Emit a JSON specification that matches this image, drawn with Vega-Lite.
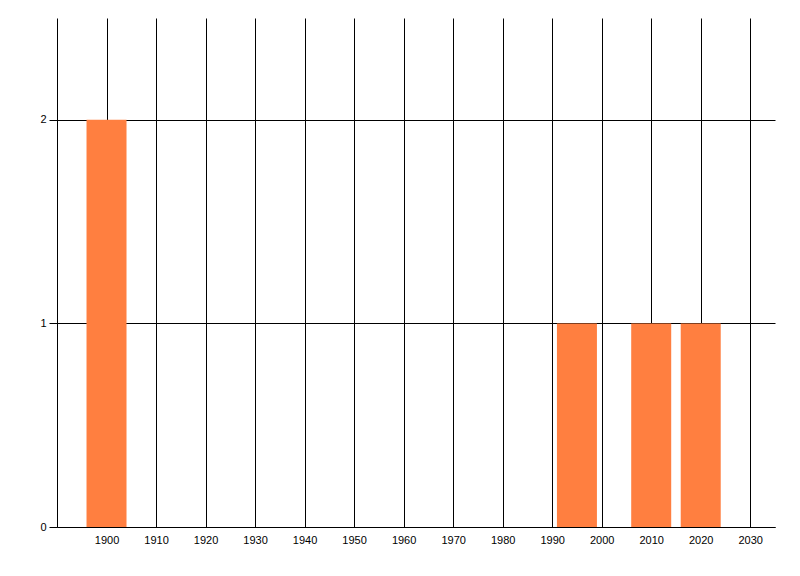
{
  "$schema": "https://vega.github.io/schema/vega-lite/v6.json",
  "width": 718,
  "height": 509,
  "autosize": {"type": "none"},
  "padding": {"left": 57, "top": 18, "right": 25, "bottom": 49},
  "background": "white",
  "config": {
    "view": {"stroke": null},
    "axis": {
      "labelFont": "Liberation Sans",
      "labelFontSize": 11,
      "labelColor": "black",
      "domainColor": "black",
      "tickColor": "black",
      "gridColor": "black",
      "gridOpacity": 1,
      "domainWidth": 1,
      "gridWidth": 1,
      "tickWidth": 1
    }
  },
  "data": {
    "values": [
      {"year": 1900, "count": 2},
      {"year": 1995, "count": 1},
      {"year": 2010, "count": 1},
      {"year": 2020, "count": 1}
    ]
  },
  "mark": {"type": "bar", "color": "#FF7F40", "width": 40},
  "encoding": {
    "x": {
      "field": "year",
      "type": "quantitative",
      "scale": {"domain": [1890, 2035], "nice": false, "zero": false, "padding": 0},
      "axis": {
        "title": null,
        "values": [1900, 1910, 1920, 1930, 1940, 1950, 1960, 1970, 1980, 1990, 2000, 2010, 2020, 2030],
        "format": "d",
        "grid": true,
        "ticks": false,
        "labelPadding": 7,
        "labelFlush": false
      }
    },
    "y": {
      "field": "count",
      "type": "quantitative",
      "scale": {"domain": [0, 2.5], "nice": false},
      "axis": {
        "title": null,
        "values": [0, 1, 2],
        "grid": true,
        "tickSize": 8,
        "labelPadding": 3,
        "labelFlush": false
      }
    }
  }
}
